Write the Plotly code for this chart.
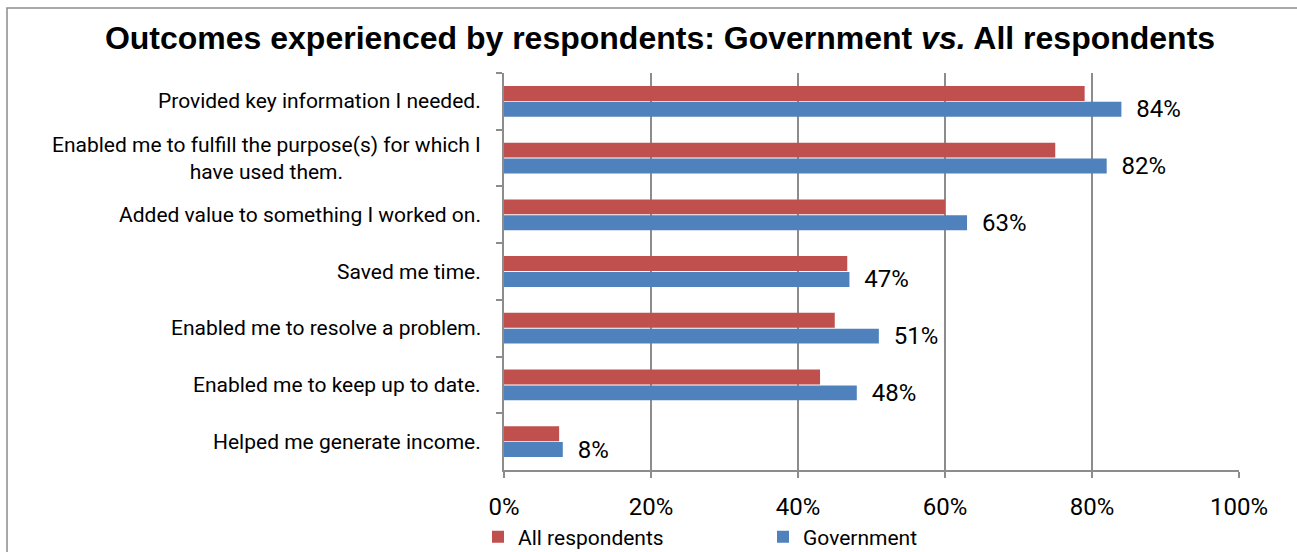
import plotly.graph_objects as go

categories = [
    "Provided key information I needed.",
    "Enabled me to fulfill the purpose(s) for which I<br>have used them.",
    "Added value to something I worked on.",
    "Saved me time.",
    "Enabled me to resolve a problem.",
    "Enabled me to keep up to date.",
    "Helped me generate income.",
]
all_respondents = [79, 75, 60, 46.7, 45, 43, 7.5]
government = [84, 82, 63, 47, 51, 48, 8]
x_ticks = [0, 20, 40, 60, 80, 100]
x_tick_labels = [f"{v}%" for v in x_ticks]

RED = "#C0504D"
BLUE = "#4F81BD"
GRID = "#8C8C8C"

W, H = 1297, 552
L, R, T, B = 504, 58, 73, 82
pw, ph = W - L - R, H - T - B

fig = go.Figure()
fig.add_trace(go.Bar(
    y=categories, x=all_respondents, orientation="h", name="All respondents",
    marker=dict(color=RED, line=dict(width=0)),
))
fig.add_trace(go.Bar(
    y=categories, x=government, orientation="h", name="Government",
    marker=dict(color=BLUE, line=dict(width=0)),
    texttemplate="\u00a0\u00a0%{x}%", textposition="outside",
    constraintext="none",
    textfont=dict(family="Roboto", size=24, color="#000000"),
    cliponaxis=False,
))

annotations = []
for c in categories:
    annotations.append(dict(
        xref="paper", yref="y", x=0, y=c, xanchor="right", yanchor="middle",
        xshift=-21, text=c, showarrow=False, align="center",
        font=dict(family="Roboto", size=21, color="#000000"),
    ))

fig.update_layout(
    width=W, height=H,
    margin=dict(l=L, r=R, t=T, b=B, pad=0, autoexpand=False),
    paper_bgcolor="white", plot_bgcolor="white",
    barmode="group", bargap=0.44, bargroupgap=0.06,
    title=dict(
        text="Outcomes experienced by respondents: Government <i>vs.</i> All respondents",
        x=660 / W, xanchor="center", y=1 - 38 / H, yanchor="middle",
        xref="container", yref="container",
        font=dict(family="Liberation Sans, Arial", size=32, color="#000000", weight="bold"),
    ),
    xaxis=dict(
        range=[0, 100], tickvals=x_ticks, ticktext=x_tick_labels,
        showgrid=True, gridcolor=GRID, gridwidth=2,
        showline=True, linecolor=GRID, linewidth=2,
        ticks="outside", ticklen=6, tickcolor=GRID, tickwidth=2,
        zeroline=False, ticklabelstandoff=8,
        tickfont=dict(family="Roboto", size=24, color="#000000"),
    ),
    yaxis=dict(
        type="category", autorange="reversed",
        showticklabels=False, showgrid=False, zeroline=False,
        showline=True, linecolor=GRID, linewidth=2,
        ticks="outside", ticklen=6, tickcolor=GRID, tickwidth=2,
        tickson="boundaries",
    ),
    legend=dict(
        orientation="h", x=(497 - L - 19) / pw, xanchor="left",
        y=(470 - 537) / ph, yanchor="middle",
        entrywidth=240, entrywidthmode="pixels", itemwidth=30,
        traceorder="normal",
        font=dict(family="Roboto", size=21, color="#000000"),
        bgcolor="rgba(0,0,0,0)",
    ),
    annotations=annotations,
    shapes=[dict(
        type="rect", xref="paper", yref="paper",
        x0=(7 - L) / pw, x1=1.5, y0=-1, y1=(470 - 8) / ph,
        line=dict(color=GRID, width=1.5), fillcolor="rgba(0,0,0,0)", layer="below",
    )],
    showlegend=True,
)

fig.write_html("out.html")
